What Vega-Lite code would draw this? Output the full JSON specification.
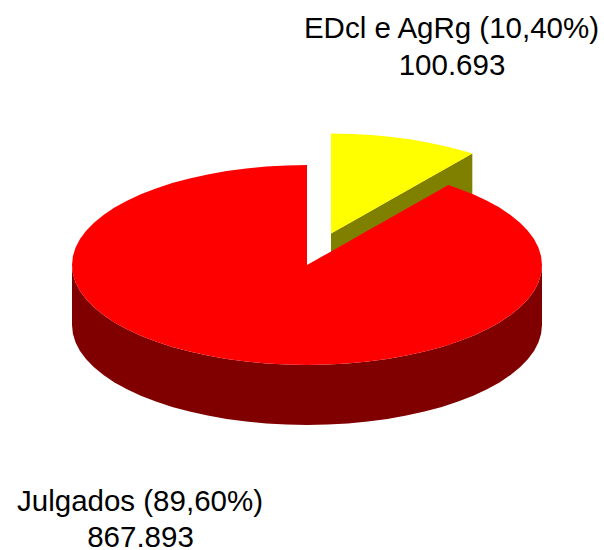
{"$schema":"https://vega.github.io/schema/vega-lite/v6.json","width":604,"height":550,"padding":0,"autosize":{"type":"none"},"background":"white","config":{"view":{"stroke":null}},
"datasets":{
"yellowWall":[{"px":24,"hi":31.5,"lo":-28.5},{"px":165.3,"hi":111.4,"lo":51.4}],
"yellowTop":[{"px":24,"hi":131.5,"lo":31.5},{"px":44.5,"hi":131.1,"lo":43.1},{"px":64.8,"hi":130,"lo":54.6},{"px":84.8,"hi":128.1,"lo":65.9},{"px":104.4,"hi":125.5,"lo":77},{"px":123.3,"hi":122.1,"lo":87.7},{"px":141.5,"hi":118.1,"lo":97.9},{"px":158.8,"hi":113.4,"lo":107.7},{"px":165.3,"hi":111.4,"lo":111.4}],
"redWall":[{"px":-235,"hi":0,"lo":-60},{"px":-234.1,"hi":-8.7,"lo":-68.7},{"px":-231.4,"hi":-17.4,"lo":-77.4},{"px":-227,"hi":-25.9,"lo":-85.9},{"px":-220.8,"hi":-34.2,"lo":-94.2},{"px":-213,"hi":-42.3,"lo":-102.3},{"px":-203.5,"hi":-50,"lo":-110},{"px":-192.5,"hi":-57.4,"lo":-117.4},{"px":-180,"hi":-64.3,"lo":-124.3},{"px":-166.2,"hi":-70.7,"lo":-130.7},{"px":-151.1,"hi":-76.6,"lo":-136.6},{"px":-134.8,"hi":-81.9,"lo":-141.9},{"px":-117.5,"hi":-86.6,"lo":-146.6},{"px":-99.3,"hi":-90.6,"lo":-150.6},{"px":-80.4,"hi":-94,"lo":-154},{"px":-60.8,"hi":-96.6,"lo":-156.6},{"px":-40.8,"hi":-98.5,"lo":-158.5},{"px":-20.5,"hi":-99.6,"lo":-159.6},{"px":0,"hi":-100,"lo":-160},{"px":20.5,"hi":-99.6,"lo":-159.6},{"px":40.8,"hi":-98.5,"lo":-158.5},{"px":60.8,"hi":-96.6,"lo":-156.6},{"px":80.4,"hi":-94,"lo":-154},{"px":99.3,"hi":-90.6,"lo":-150.6},{"px":117.5,"hi":-86.6,"lo":-146.6},{"px":134.8,"hi":-81.9,"lo":-141.9},{"px":151.1,"hi":-76.6,"lo":-136.6},{"px":166.2,"hi":-70.7,"lo":-130.7},{"px":180,"hi":-64.3,"lo":-124.3},{"px":192.5,"hi":-57.4,"lo":-117.4},{"px":203.5,"hi":-50,"lo":-110},{"px":213,"hi":-42.3,"lo":-102.3},{"px":220.8,"hi":-34.2,"lo":-94.2},{"px":227,"hi":-25.9,"lo":-85.9},{"px":231.4,"hi":-17.4,"lo":-77.4},{"px":234.1,"hi":-8.7,"lo":-68.7},{"px":235,"hi":0,"lo":-60}],
"redTop":[{"px":-235,"hi":0,"lo":0},{"px":-234.1,"hi":8.7,"lo":-8.7},{"px":-231.4,"hi":17.4,"lo":-17.4},{"px":-227,"hi":25.9,"lo":-25.9},{"px":-220.8,"hi":34.2,"lo":-34.2},{"px":-213,"hi":42.3,"lo":-42.3},{"px":-203.5,"hi":50,"lo":-50},{"px":-192.5,"hi":57.4,"lo":-57.4},{"px":-180,"hi":64.3,"lo":-64.3},{"px":-166.2,"hi":70.7,"lo":-70.7},{"px":-151.1,"hi":76.6,"lo":-76.6},{"px":-134.8,"hi":81.9,"lo":-81.9},{"px":-117.5,"hi":86.6,"lo":-86.6},{"px":-99.3,"hi":90.6,"lo":-90.6},{"px":-80.4,"hi":94,"lo":-94},{"px":-60.8,"hi":96.6,"lo":-96.6},{"px":-40.8,"hi":98.5,"lo":-98.5},{"px":-20.5,"hi":99.6,"lo":-99.6},{"px":0,"hi":100,"lo":-100},{"px":0,"hi":0,"lo":-100},{"px":20.5,"hi":11.6,"lo":-99.6},{"px":40.8,"hi":23.1,"lo":-98.5},{"px":60.8,"hi":34.4,"lo":-96.6},{"px":80.4,"hi":45.5,"lo":-94},{"px":99.3,"hi":56.2,"lo":-90.6},{"px":117.5,"hi":66.4,"lo":-86.6},{"px":134.8,"hi":76.2,"lo":-81.9},{"px":141.3,"hi":79.9,"lo":-79.9},{"px":151.1,"hi":76.6,"lo":-76.6},{"px":166.2,"hi":70.7,"lo":-70.7},{"px":180,"hi":64.3,"lo":-64.3},{"px":192.5,"hi":57.4,"lo":-57.4},{"px":203.5,"hi":50,"lo":-50},{"px":213,"hi":42.3,"lo":-42.3},{"px":220.8,"hi":34.2,"lo":-34.2},{"px":227,"hi":25.9,"lo":-25.9},{"px":231.4,"hi":17.4,"lo":-17.4},{"px":234.1,"hi":8.7,"lo":-8.7},{"px":235,"hi":0,"lo":0}],
"labels":[{"px":144.5,"hi":227.5,"text":"EDcl e AgRg (10,40%)"},{"px":145,"hi":190,"text":"100.693"},{"px":-167,"hi":-245.7,"text":"Julgados (89,60%)"},{"px":-166.5,"hi":-281.5,"text":"867.893"}]},
"encoding":{"x":{"field":"px","type":"quantitative","scale":{"domain":[-307,297],"nice":false,"zero":false},"axis":null},"y":{"field":"hi","type":"quantitative","scale":{"domain":[-285,265],"nice":false,"zero":false},"axis":null}},
"layer":[
{"data":{"name":"yellowWall"},"mark":{"type":"area","fill":"#808000","orient":"vertical"},"encoding":{"y2":{"field":"lo"}}},
{"data":{"name":"yellowTop"},"mark":{"type":"area","fill":"#ffff00","orient":"vertical"},"encoding":{"y2":{"field":"lo"}}},
{"data":{"name":"redWall"},"mark":{"type":"area","fill":"#800000","orient":"vertical"},"encoding":{"y2":{"field":"lo"}}},
{"data":{"name":"redTop"},"mark":{"type":"area","fill":"#ff0000","orient":"vertical"},"encoding":{"y2":{"field":"lo"}}},
{"data":{"name":"labels"},"mark":{"type":"text","font":"Liberation Sans","fontSize":29.5,"color":"#000000","align":"center","baseline":"alphabetic"},"encoding":{"text":{"field":"text","type":"nominal"}}}
]}
